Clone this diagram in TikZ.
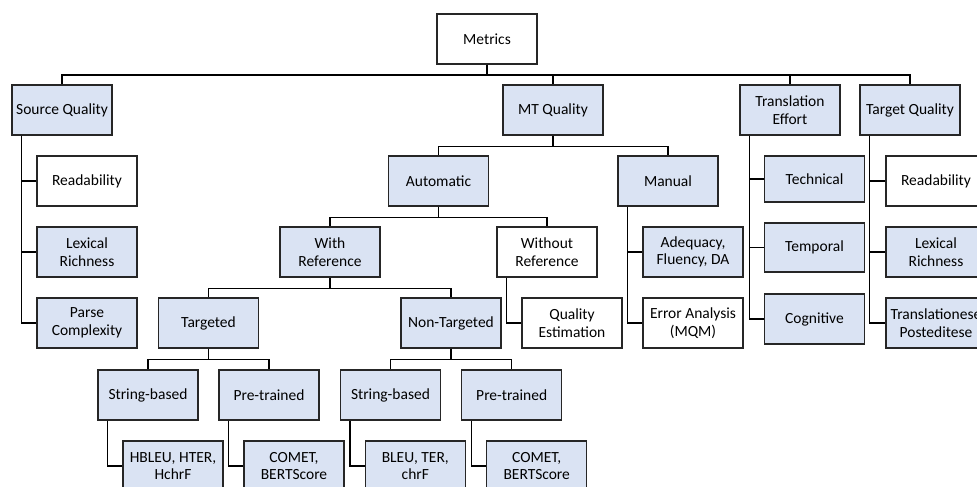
\documentclass[tikz,border=0pt]{standalone}
\usepackage{fontspec}
\setmainfont{Carlito}
\usepackage{tikz}
\usetikzlibrary{calc}
\definecolor{boxc}{HTML}{DAE3F3}
\definecolor{linec}{HTML}{262626}
\tikzset{
  box/.style={draw=linec,line width=1.1pt,fill=boxc,align=center,minimum width=100pt,minimum height=50pt,inner sep=2pt,font=\fontsize{15.5}{17.5}\selectfont},
  wbox/.style={box,fill=white},
  ln/.style={line width=1.1pt,black}
}
\begin{document}
\begin{tikzpicture}[x=1pt,y=-1pt]
\useasboundingbox (0,0) rectangle (977,487);
% top level
\node[wbox] (met) at (487,39) {Metrics};
\node[box] (srcq) at (62,110) {Source Quality};
\node[box] (mtq) at (553,110) {MT Quality};
\node[box] (eff) at (790,110) {Translation\\Effort};
\node[box] (tgtq) at (910,110) {Target Quality};
% source quality
\node[wbox] (srd) at (87,181) {Readability};
\node[box] (slex) at (87,252) {Lexical\\Richness};
\node[box] (spar) at (87,323) {Parse\\Complexity};
% mt quality
\node[box] (auto) at (438.5,181) {Automatic};
\node[box] (man) at (668,181) {Manual};
\node[box] (wref) at (330,252) {With\\Reference};
\node[wbox] (woref) at (547,252) {Without\\Reference};
\node[box] (adeq) at (693,252) {Adequacy,\\Fluency, DA};
\node[wbox] (err) at (693,323) {Error Analysis\\(MQM)};
\node[wbox] (qe) at (572,323) {Quality\\Estimation};
\node[box] (targ) at (208.5,323) {Targeted};
\node[box] (ntarg) at (451,323) {Non-Targeted};
\node[box] (sb1) at (148,395) {String-based};
\node[box] (pt1) at (269,395) {Pre-trained};
\node[box] (sb2) at (390.5,395) {String-based};
\node[box] (pt2) at (511.7,395) {Pre-trained};
\node[box] (lf1) at (173,466) {HBLEU, HTER,\\HchrF};
\node[box] (lf2) at (294,466) {COMET,\\BERTScore};
\node[box] (lf3) at (415.3,466) {BLEU, TER,\\chrF};
\node[box] (lf4) at (536.7,466) {COMET,\\BERTScore};
% translation effort
\node[box,minimum height=46pt] (tech) at (814.5,179) {Technical};
\node[box,minimum height=49pt] (temp) at (814.5,247.5) {Temporal};
\node[box] (cog) at (814.5,319) {Cognitive};
% target quality
\node[wbox] (trd) at (936,181) {Readability};
\node[box] (tlex) at (936,252) {Lexical\\Richness};
\node[box] (tps) at (936,323) {Translationese\\Posteditese};
% tree connectors
\foreach \c in {srcq,mtq,eff,tgtq}
  \draw[ln] (met.south) -- ++(0,10.5) -| (\c.north);
\foreach \c in {auto,man}
  \draw[ln] (mtq.south) -- ++(0,10.5) -| (\c.north);
\foreach \c in {wref,woref}
  \draw[ln] (auto.south) -- ++(0,10.5) -| (\c.north);
\foreach \c in {targ,ntarg}
  \draw[ln] (wref.south) -- ++(0,10.5) -| (\c.north);
\foreach \c in {sb1,pt1}
  \draw[ln] (targ.south) -- ++(0,11) -| (\c.north);
\foreach \c in {sb2,pt2}
  \draw[ln] (ntarg.south) -- ++(0,11) -| (\c.north);
% side lists
\foreach \p/\c in {srcq/srd,srcq/slex,srcq/spar,man/adeq,man/err,woref/qe,
  eff/tech,eff/temp,eff/cog,tgtq/trd,tgtq/tlex,tgtq/tps,
  sb1/lf1,pt1/lf2,sb2/lf3,pt2/lf4}
  \draw[ln] ([xshift=10pt]\p.south west) |- (\c.west);
\end{tikzpicture}
\end{document}
